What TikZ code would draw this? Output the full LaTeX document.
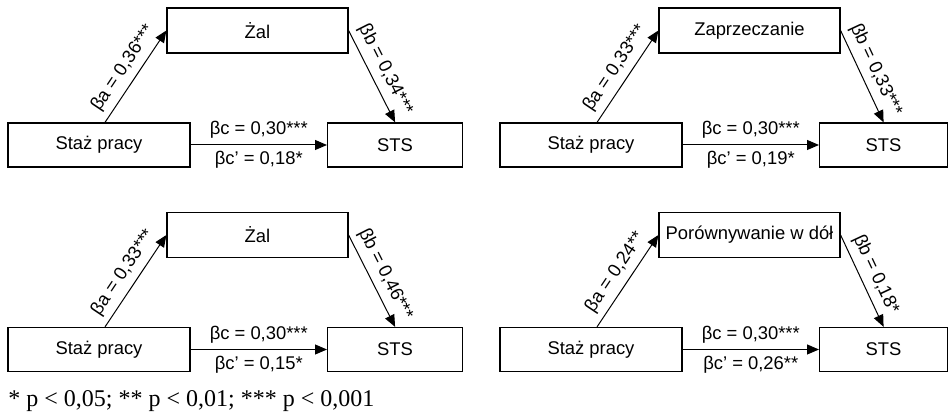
\documentclass[tikz,border=0pt]{standalone}
\usepackage{fontspec}
\setmainfont{Liberation Serif}
\setsansfont{Liberation Sans}
\usetikzlibrary{arrows.meta}

\begin{document}
\begin{tikzpicture}[x=0.5pt, y=-0.5pt, every node/.style={font=\sffamily\fontsize{9.2}{11}\selectfont}, >={Triangle[length=6pt, width=5pt]},
	box/.style={draw, line width=0.6pt, minimum height=22pt, inner sep=0pt},
	link/.style={->, line width=0.5pt},
	coef/.style={inner sep=3pt}]
	\useasboundingbox (0,0) rectangle (948,415);
	\foreach \i/\px/\py/\sw/\med/\ba/\bb/\bcp in {
		1/0/0/67.5/{Żal}/{0,36***}/{0,34***}/{0,18*},
		2/492/0/64/{Zaprzeczanie}/{0,33***}/{0,33***}/{0,19*},
		3/0/204.5/67.5/{Żal}/{0,33***}/{0,46***}/{0,15*},
		4/492/204.5/64/{Porównywanie w dół}/{0,24**}/{0,18*}/{0,26**}} {
		\node[box, minimum width=91pt] (staz-\i) at (\px+99, \py+145) {Staż pracy};
		\node[box, minimum width=90.5pt, minimum height=22.5pt] (med-\i) at (\px+257.5, \py+30.5) {\med};
		\node[box, minimum width=\sw pt, anchor=west] (sts-\i) at (\px+327, \py+145) {STS};
		\draw[link] ([xshift=3pt]staz-\i.north) -- node[coef, midway, sloped, above] {βa = \ba} (med-\i.west);
		\draw[link] (med-\i.east) -- node[coef, midway, sloped, above] {βb = \bb} (sts-\i.north);
		\draw[link] (staz-\i.east) -- node[coef, midway, above] {βc = 0,30***} node[coef, midway, below] {βc’ = \bcp} (sts-\i.west);
	}
	\node[font=\rmfamily\fontsize{12}{14}\selectfont, anchor=base west, inner sep=0pt] (note) at (8, 407) {* p < 0,05; ** p < 0,01; *** p < 0,001};
\end{tikzpicture}
\end{document}
